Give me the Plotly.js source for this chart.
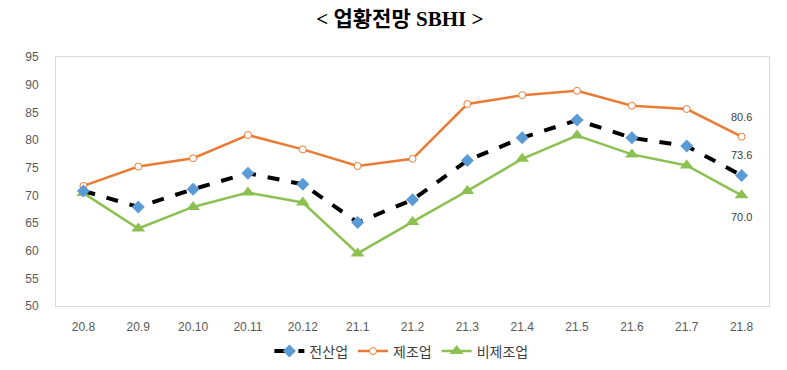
<!DOCTYPE html>
<html>
<head>
<meta charset="utf-8">
<script src="https://cdn.plot.ly/plotly-3.0.1.min.js"></script>
<style>html,body{margin:0;padding:0;background:#fff;}#chart{width:787px;height:370px;}</style>
</head>
<body>
<div id="chart"></div>
<script>
const categories = ['20.8','20.9','20.10','20.11','20.12','21.1','21.2','21.3','21.4','21.5','21.6','21.7','21.8'];
const total = [70.8, 67.9, 71.1, 74.0, 72.0, 65.1, 69.2, 76.3, 80.4, 83.6, 80.4, 78.9, 73.6];
const manufacturing = [71.7, 75.2, 76.7, 80.9, 78.3, 75.3, 76.6, 86.5, 88.1, 88.9, 86.2, 85.6, 80.6];
const nonManufacturing = [70.4, 64.0, 67.9, 70.5, 68.7, 59.5, 65.2, 70.8, 76.6, 80.8, 77.4, 75.4, 70.0];
const seriesNames = ['전산업', '제조업', '비제조업'];
const titleText = '&lt; 업황전망 SBHI &gt;';

const lastIdx = categories.length - 1;
const labelFont = {family: 'Liberation Sans, Arial, sans-serif', size: 11, color: '#404040'};

const traces = [
  {
    x: categories, y: total, name: seriesNames[0], type: 'scatter', mode: 'lines+markers',
    line: {color: '#000000', width: 4, dash: 'dash'},
    marker: {symbol: 'diamond', size: 10, color: '#5b9bd5'}
  },
  {
    x: categories, y: manufacturing, name: seriesNames[1], type: 'scatter', mode: 'lines+markers',
    line: {color: '#e87c35', width: 2.5},
    marker: {symbol: 'circle', size: 7, color: '#ffffff', line: {color: '#e87c35', width: 1}}
  },
  {
    x: categories, y: nonManufacturing, name: seriesNames[2], type: 'scatter', mode: 'lines+markers',
    line: {color: '#8cc152', width: 2.5},
    marker: {symbol: 'triangle-up', size: 12, color: '#8cc152'}
  }
];
// draw order: green, orange, black on top
const ordered = [traces[2], traces[1], traces[0]];

const annotations = [
  {xref: 'x', x: lastIdx, y: manufacturing[lastIdx], text: manufacturing[lastIdx].toFixed(1), showarrow: false, yshift: 20, font: labelFont},
  {xref: 'x', x: lastIdx, y: total[lastIdx], text: total[lastIdx].toFixed(1), showarrow: false, yshift: 20, font: labelFont},
  {xref: 'x', x: lastIdx, y: nonManufacturing[lastIdx], text: nonManufacturing[lastIdx].toFixed(1), showarrow: false, yshift: -22, font: labelFont}
];

const layout = {
  width: 787, height: 370,
  margin: {l: 56, r: 18, t: 57, b: 64},
  paper_bgcolor: '#ffffff', plot_bgcolor: '#ffffff',
  title: {
    text: '<b>' + titleText + '</b>',
    x: 0.508, xanchor: 'center', y: 0.95, yanchor: 'middle',
    font: {family: 'Liberation Serif, Noto Sans CJK KR, serif', size: 21, color: '#000000'}
  },
  xaxis: {
    type: 'category', categoryorder: 'array', categoryarray: categories,
    range: [-0.5, categories.length - 0.5], autorange: false,
    showgrid: false, zeroline: false,
    showline: true, linecolor: '#d9d9d9', linewidth: 1, mirror: true,
    ticks: '', tickfont: {family: 'Liberation Sans, Arial, sans-serif', size: 12, color: '#595959'},
    ticklabelstandoff: 10
  },
  yaxis: {
    range: [50, 95], autorange: false, dtick: 5, tick0: 50,
    showgrid: false, zeroline: false,
    showline: true, linecolor: '#d9d9d9', linewidth: 1, mirror: true,
    ticks: '', tickfont: {family: 'Liberation Sans, Arial, sans-serif', size: 12, color: '#595959'},
    ticklabelstandoff: 14
  },
  showlegend: true,
  legend: {
    orientation: 'h', x: 0.51, xanchor: 'center', xref: 'container',
    y: 0.05, yanchor: 'middle', yref: 'container',
    traceorder: 'reversed',
    font: {family: 'Noto Sans CJK KR, sans-serif', size: 14, color: '#404040'}
  },
  annotations: annotations
};

Plotly.newPlot('chart', ordered, layout, {displayModeBar: false, staticPlot: true});
</script>
</body>
</html>
